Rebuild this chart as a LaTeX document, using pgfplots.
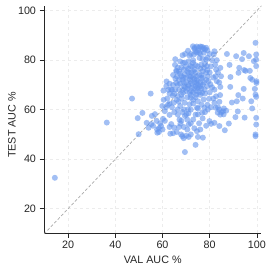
\documentclass[border=0pt]{standalone}
\usepackage{pgfplots}
\pgfplotsset{compat=1.18}
\usepackage{fontspec}
\setmainfont{Liberation Sans}
\definecolor{pt}{RGB}{100,149,237}
\definecolor{ax}{RGB}{38,38,38}
\definecolor{gr}{RGB}{236,236,236}
\begin{document}
\begin{tikzpicture}
\path[use as bounding box] (-44bp,-40bp) rectangle (228bp,233bp);
\begin{axis}[
  scale only axis, width=217.4bp, height=227.3bp,
  xmin=9.8, xmax=101.9, ymin=10.2, ymax=102,
  axis x line*=bottom, axis y line*=left,
  axis line style={ax, line width=0.9pt},
  xtick={20,40,60,80,100}, ytick={20,40,60,80,100},
  tick style={ax, line width=0.8pt}, tick align=outside, major tick length=4.5bp,
  grid=major, grid style={gr, dashed, line width=0.5pt},
  tick label style={font=\fontsize{10.8}{12}\selectfont, text=ax},
  label style={font=\fontsize{10.8}{12}\selectfont, text=ax},
  /pgf/number format/assume math mode=true,
  xlabel={VAL AUC \%}, ylabel={TEST AUC \%},
  xlabel style={at={(axis description cs:0.5,-0.119)}, anchor=center},
  ylabel style={at={(axis description cs:-0.147,0.475)}, anchor=center},
  clip=true,
]
\addplot[color={rgb,255:red,170;green,170;blue,170}, line width=0.7pt, dash pattern=on 3pt off 2pt] coordinates {(9.8,9.8) (102,102)};
\addplot[only marks, mark=*, mark size=3bp, color=pt, mark options={draw opacity=0, fill=pt, fill opacity=0.6}] coordinates {
(14.4,32.5)(36.4,54.8)(47.1,64.5)(55,66.5)(49.5,56.6)(51.5,58.7)(49.9,50.1)
(53.3,54.7)(54.1,52.7)(55.3,54.2)(56.8,58.2)(57.7,52)(57.8,50.7)(58.5,52.5)(59.4,53.4)(60.2,56.3)
(59.9,61.5)(61,59.4)(60.4,67.7)(61.6,69.5)(61.7,71.4)(62.3,62)(63,57.9)(63.3,50.3)(63.7,54.2)
(63.6,68.2)(64.3,65.7)(64.7,62.8)(65,52.8)
(65.4,80.4)(65.3,78.1)(65.8,75.8)(66.1,73.4)(65.8,70.8)(65.4,68.1)(66.5,65.5)(66.8,63.2)(66.4,60.1)
(67.2,56)(67.6,54.4)(67.9,50)(68.4,49.3)(68.7,78.9)(69,76.2)(69.4,74.2)(68.4,72.2)(69.1,69.5)
(68.7,66.8)(68.2,64.5)(69.4,62.8)(69.1,60.1)(70.1,58.1)(69.6,82.5)(70.8,83.8)(71.5,81.8)(71.8,77.6)
(72.2,74.9)(71.5,72.2)(71.2,69.5)(72.2,67.5)(71.9,64.8)(71.5,62.2)(70.8,60.1)(70.5,56)(71.1,54)
(71.1,49)(69.5,42.9)(72.9,85.6)(73.6,85)(73.3,82.3)(72.9,78.9)(73.6,76.2)(74.3,73.5)(74.3,70.8)
(74.7,68.8)(74.3,66.1)(75,63.4)(74.6,60.8)(75,58.1)(74.6,51.3)(74,45.8)(75.4,85)(76.7,85.4)
(77.4,85)(78,84.3)(75.7,80.9)(76.4,78.2)(77.1,75.5)(76.4,72.8)(77.1,70.1)(77.8,68.1)(76.8,66.8)
(77.4,64.1)(77.8,60.8)(76.8,58.8)(77.1,48.7)(78.5,80.2)(78.8,77.6)(79.2,73.5)(78.9,69.5)(79.7,64.4)
(79.2,60.1)(79.9,55.4)(80.6,54.3)(80.3,70.2)(82,83.6)(81.7,82.3)(82.3,78.2)(82.7,76.2)(82.5,73.5)
(83,71.5)(82,68.1)(82.7,65.4)(82,62.8)(82.5,60.8)(82,54.7)(83.4,58.8)(84.1,53.4)(84.5,76.9)
(84.5,69.2)(84.8,73.5)(84.4,65.9)(84.1,63.2)(85.6,59.4)(85.9,58.1)(86.4,51.7)(87,59.6)(87.3,82.5)
(88.4,78.1)(88.8,73.2)(88.7,69.2)(88.1,54.4)(89.4,62.9)(91.2,81.6)(91.5,63.4)(91.9,59.3)(90.9,57)
(92.1,65.9)(92.2,74.9)(92.5,76.9)(93.7,80.4)(94.4,82.9)(94.6,76)(94.4,68.4)(94,64.5)(94.8,56.8)
(95.2,75.7)(96.6,81.6)(97,75.7)(97.2,72.8)(98,72.1)(97.6,63.4)(98,60.5)(98.7,79.6)(99.4,87)
(99.7,82.3)(99.7,80.2)(99.7,77.6)(99.8,71.5)(99.8,70.8)(99.1,68.4)(99.4,66.1)(99.7,65.2)(99.7,56.7)
(99.7,54)(99.4,50)(99.4,49.3)
(66.5,70)(67,72)(67.5,74.5)(68,77)(67,68)(68,66)(69,71)(70,73)(70.5,75.5)(70,67.5)(70.5,65)(71,70)
(72,71.5)(72.5,69)(73,67)(73,73)(73.5,71)(74,69.5)(75,71.5)(75.5,69)(75.5,74)(76,76.5)(76,71)
(76.5,68.5)(77,73)(77.5,71)(78,66.5)(78.5,72)(76,66)(74,65)(73,62.5)(72,60)(71,58.5)(69.5,57.5)
(68.5,59)(67.5,61.5)(66,64)(65,66.5)(64,68)(63,66.5)(64.5,70)(65.5,72.5)(66.5,77)(67.5,79.5)
(68.5,82)(69.5,79)(71,79.5)(72,82.5)(73,80)(74,78)(74.5,83)(76,82.5)(77,80.5)(78,78.5)(79,76)
(80,75)(80.5,77.5)(79.5,71.5)(80,67)(79,62)(78,59)(76.5,62)(75,60.5)(74,58)(73,56)(72,54.5)
(70.5,52)(69,53)(68,55.5)(66.5,58)(65,59)(64,61)(63,62.5)(62,64.5)(61.5,61)(60.5,64)(62.5,68)
(63,70.5)(64.5,74)(66,75.5)(68,73.5)(69.5,69)(71,76.5)(72.5,77.5)(74,75)(75,77.5)(77.5,77)
(78.5,75)(79,81)(80,82.5)(81,80)(81.5,73)(81,69)(81.5,64.5)(80.5,61)(77,56.5)(75.5,54.5)
(73.5,52.5)(72,50)(70,49.5)(69,48.5)(75,49)(76,52)(78.5,53.5)(67,53)(66,51)(64.5,50.5)(63,53)
(61,55.5)(60,52)(58.5,51)(59,54.5)(57.5,55.5)(56,53.5)(55.5,57.5)
(73.5,84.5)(74.5,85.5)(75,84)(76,85.5)(77,84.5)(78.5,85)(79,84)(74,83.5)(75.5,83)(77.5,83)
(84,60)(85,59)(86,60.5)(84.5,58)(83.5,61)(83,80)(83.5,75)(84,71)(72,73.5)(73,75.5)(71.5,67)
(70,71)(69,73)(70,77.5)(67.5,70.5)(68.5,68)(67,75.5)(75.5,67)(74.5,72)(76.5,74)(73.5,68.5)
(72.5,70.5)(73.5,72.5)(74.5,67.5)(75,70)(76,69.5)(71.5,73.5)(72,66)(73,64)(70.5,68.5)(71,75)
};
\end{axis}
\end{tikzpicture}
\end{document}
